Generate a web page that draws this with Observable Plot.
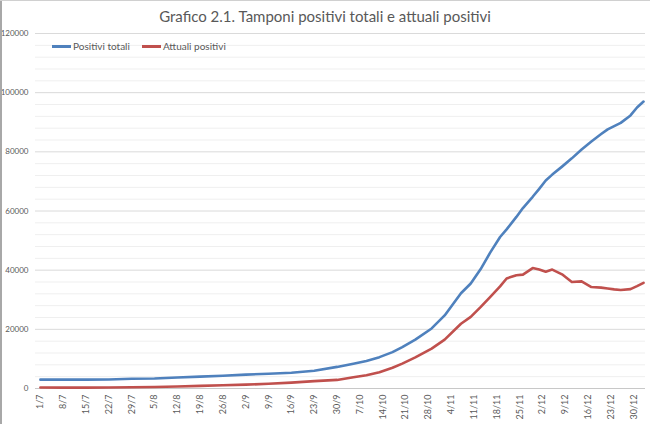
<!DOCTYPE html>
<html>
<head>
<meta charset="utf-8">
<script src="https://cdn.jsdelivr.net/npm/d3@7"></script>
<script src="https://cdn.jsdelivr.net/npm/@observablehq/plot@0.6"></script>
<style>
  body { margin: 0; background: #fff; }
  #wrap { position: relative; width: 650px; height: 424px; overflow: hidden; background: #fff; font-family: Lato, "Liberation Sans", sans-serif; }
  #title { position: absolute; top: 0; left: 0; width: 650px; height: 30px; line-height: 33px; text-align: center; font-size: 15px; color: #595959; }
  #border { position: absolute; left: 0; top: 0; width: 2px; height: 424px; background: #a8a8a8; }
  #topborder { position: absolute; left: 0; top: 0; width: 650px; height: 1px; background: #d0d0d0; }
  #legend { position: absolute; top: 40px; left: 52px; font-size: 10px; color: #595959; display: flex; gap: 0; }
  .item { display: flex; align-items: center; margin-right: 12px; }
  .sw { width: 19px; height: 3px; margin-right: 2px; }
</style>
</head>
<body>
<div id="wrap">
  <div id="chart"></div>
  <div id="title">Grafico 2.1. Tamponi positivi totali e attuali positivi</div>
  <div id="legend"></div>
  <div id="border"></div>
  <div id="topborder"></div>
</div>
<script>
const seriesNames = ["Positivi totali", "Attuali positivi"];
const seriesColors = ["#4F81BD", "#C0504D"];

const dates = [
  "2020-07-01","2020-07-08","2020-07-15","2020-07-22","2020-07-29","2020-08-05","2020-08-12","2020-08-19",
  "2020-08-26","2020-09-02","2020-09-09","2020-09-16","2020-09-23","2020-09-30","2020-10-05","2020-10-09",
  "2020-10-13","2020-10-17","2020-10-20","2020-10-24","2020-10-29","2020-11-02","2020-11-07","2020-11-10",
  "2020-11-13","2020-11-16","2020-11-19","2020-11-21","2020-11-24","2020-11-26","2020-11-29","2020-12-01",
  "2020-12-03","2020-12-05","2020-12-08","2020-12-11","2020-12-14","2020-12-17","2020-12-20","2020-12-22",
  "2020-12-24","2020-12-26","2020-12-29","2020-12-31","2021-01-02"
];
const positiviTotali = [
  3000,3000,3000,3050,3300,3400,3700,4000,
  4300,4700,5000,5300,6000,7300,8400,9300,
  10600,12300,14000,16500,20300,24700,32200,35500,
  40300,46000,51200,53800,58000,61000,64800,67500,
  70300,72300,75000,77800,80800,83500,86000,87600,
  88700,89800,92300,95000,97000
];
const attualiPositivi = [
  350,300,300,350,400,500,700,900,
  1100,1300,1600,2000,2500,2900,3800,4500,
  5500,7000,8400,10500,13500,16500,21900,24200,
  27500,31000,34500,37200,38300,38500,40700,40200,
  39500,40200,38600,36000,36200,34300,34100,33800,
  33500,33300,33600,34600,35700
];

const tickLabels = ["1/7","8/7","15/7","22/7","29/7","5/8","12/8","19/8","26/8","2/9","9/9","16/9","23/9","30/9",
  "7/10","14/10","21/10","28/10","4/11","11/11","18/11","25/11","2/12","9/12","16/12","23/12","30/12"];
const yTicks = [0, 20000, 40000, 60000, 80000, 100000, 120000];
const yMinorTicks = [4000, 8000, 12000, 16000, 24000, 28000, 32000, 36000, 44000, 48000, 52000, 56000,
  64000, 68000, 72000, 76000, 84000, 88000, 92000, 96000, 104000, 108000, 112000, 116000];

const parse = d3.utcParse("%Y-%m-%d");
const rows = [];
dates.forEach((d, i) => {
  rows.push({date: parse(d), value: positiviTotali[i], series: seriesNames[0]});
});
dates.forEach((d, i) => {
  rows.push({date: parse(d), value: attualiPositivi[i], series: seriesNames[1]});
});
const tickDates = tickLabels.map(s => {
  const [day, month] = s.split("/").map(Number);
  return new Date(Date.UTC(2020, month - 1, day));
});
const labelOf = new Map(tickDates.map((d, i) => [+d, tickLabels[i]]));

const DAY = 864e5;
const start = tickDates[0];
const xDomain = [new Date(+start - 1.5 * DAY), new Date(+start + 185.6 * DAY)];

const chart = Plot.plot({
  width: 650,
  height: 424,
  marginTop: 33,
  marginBottom: 36,
  marginLeft: 35,
  marginRight: 5,
  style: {fontFamily: "Lato, 'Liberation Sans', sans-serif", color: "#595959", background: "#fff"},
  x: {type: "utc", domain: xDomain, label: null},
  y: {domain: [0, 120000], label: null},
  color: {domain: seriesNames, range: seriesColors},
  marks: [
    Plot.ruleY(yMinorTicks, {stroke: "#efefef", strokeWidth: 1}),
    Plot.ruleY(yTicks.slice(1), {stroke: "#dadada", strokeWidth: 1}),
    Plot.ruleY([0], {stroke: "#c8c8c8", strokeWidth: 1}),
    Plot.axisY({ticks: yTicks, tickFormat: d => String(d), tickSize: 0, tickPadding: 7, fontSize: 8, fill: "#595959", label: null}),
    Plot.axisX({ticks: tickDates, tickFormat: d => labelOf.get(+d), tickRotate: -90, tickSize: 0, tickPadding: 6, fontSize: 9, fill: "#595959", label: null}),
    Plot.line(rows, {x: "date", y: "value", z: "series", stroke: "series", strokeWidth: 2.6, curve: "linear"})
  ]
});
document.getElementById("chart").appendChild(chart);

const legend = document.getElementById("legend");
seriesNames.forEach((name, i) => {
  const item = document.createElement("div");
  item.className = "item";
  const sw = document.createElement("div");
  sw.className = "sw";
  sw.style.background = seriesColors[i];
  const label = document.createElement("span");
  label.textContent = name;
  item.appendChild(sw);
  item.appendChild(label);
  legend.appendChild(item);
});
</script>
</body>
</html>
